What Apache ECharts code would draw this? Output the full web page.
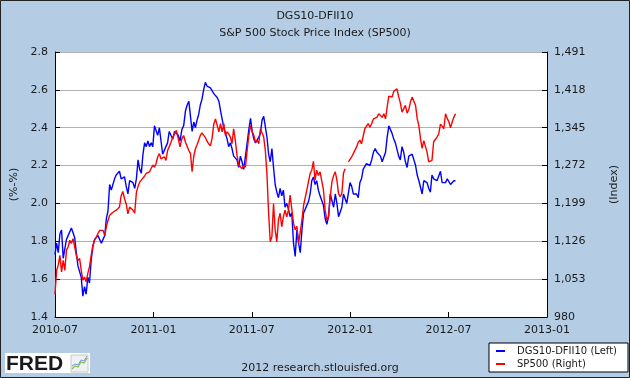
<!DOCTYPE html>
<html>
<head>
<meta charset="utf-8">
<script src="https://cdn.jsdelivr.net/npm/echarts@6/dist/echarts.min.js"></script>
<style>
  html, body { margin: 0; padding: 0; background: #B4CDE5; }
  #chart { width: 630px; height: 378px; }
</style>
</head>
<body>
<div id="chart"></div>
<script>
// ---- data ----
const titleLines = ['DGS10-DFII10', 'S&P 500 Stock Price Index (SP500)'];
const seriesNames = ['DGS10-DFII10 (Left)', 'SP500 (Right)'];
const xTickLabels = ['2010-07', '2011-01', '2011-07', '2012-01', '2012-07', '2013-01'];
const leftTicks = [1.4, 1.6, 1.8, 2.0, 2.2, 2.4, 2.6, 2.8];
const rightTicks = [980, 1053, 1126, 1199, 1272, 1345, 1418, 1491];

// samples were read every 3.1 days starting 2010-07-01
const sampleStart = '2010-07-01';
const sampleStepDays = 3.1;

// DGS10-DFII10 (percent), left axis
const spread = [
  1.73,1.79,1.74,1.84,1.86,1.71,1.76,1.81,1.83,1.83,1.87,1.86,1.82,1.74,1.67,1.64,1.61,1.51,1.56,1.52,1.61,1.58,1.70,1.77,
  1.81,1.80,1.83,1.84,1.79,1.81,1.83,1.92,1.96,2.10,2.07,2.10,2.13,2.15,2.16,2.17,2.13,2.12,2.14,2.09,2.05,2.12,2.13,2.11,
  2.08,2.13,2.23,2.18,2.16,2.26,2.32,2.30,2.33,2.30,2.32,2.30,2.41,2.42,2.36,2.40,2.39,2.26,2.25,2.30,2.32,2.38,2.36,2.34,
  2.38,2.39,2.36,2.33,2.39,2.41,2.49,2.52,2.54,2.46,2.38,2.43,2.40,2.44,2.47,2.52,2.55,2.60,2.64,2.62,2.61,2.61,2.60,2.58,
  2.57,2.56,2.54,2.49,2.48,2.40,2.37,2.34,2.30,2.32,2.29,2.25,2.26,2.23,2.19,2.25,2.22,2.18,2.25,2.32,2.39,2.45,2.38,2.34,
  2.32,2.33,2.35,2.37,2.44,2.46,2.45,2.35,2.26,2.22,2.29,2.19,2.10,2.06,2.03,2.08,2.04,2.07,1.98,2.00,1.97,1.93,1.95,1.79,
  1.72,1.86,1.79,1.74,1.86,1.95,1.97,1.96,2.01,2.05,2.12,2.14,2.10,2.12,2.07,2.04,2.04,1.99,1.92,1.89,1.93,2.05,2.04,1.98,
  2.05,2.00,1.93,1.92,1.98,2.05,2.04,2.00,2.01,2.11,2.09,2.05,2.04,2.05,2.03,2.11,2.13,2.18,2.18,2.21,2.22,2.20,2.23,2.27,
  2.29,2.27,2.27,2.25,2.22,2.21,2.27,2.35,2.41,2.40,2.37,2.34,2.32,2.31,2.25,2.23,2.30,2.27,2.22,2.19,2.25,2.25,2.26,2.25,
  2.20,2.15,2.12,2.11,2.05,2.12,2.13,2.11,2.08,2.06,2.15,2.13,2.14,2.12,2.13,2.17,2.11,2.10,2.11,2.13,2.12,2.10,2.11,2.12,2.12
];

// SP500 (index), right axis; null = missing day
const sp500 = [
  1024,1070,1080,1099,1067,1089,1070,1109,1115,1128,1122,1131,1128,1099,1089,1093,1070,1051,1057,1048,1064,1077,1099,1118,
  1128,1134,1141,1147,1144,1147,1137,1154,1166,1176,1179,1182,1182,1186,1186,1192,1214,1222,1208,1198,1179,1192,1189,1186,
  1180,1220,1232,1240,1244,1246,1252,1257,1257,1260,1263,1273,1269,1276,1289,1295,1285,1285,1289,1282,1301,1308,1317,1327,
  1333,1340,1337,1308,1324,1330,1317,1317,1301,1295,1260,1290,1304,1312,1321,1330,1335,1334,1326,1319,1314,1310,1325,1352,
  1362,1359,1337,1353,1337,1353,1330,1337,1333,1327,1314,1343,1321,1292,1273,1273,1266,1273,1269,1301,1330,1349,1337,1330,
  1317,1321,1314,1343,1340,1327,1301,1255,1180,1125,1135,1199,1148,1125,1167,1180,1154,1173,1186,1173,1186,1215,1212,1161,
  1148,1155,1122,1125,1167,1195,1193,1225,1228,1257,1263,1280,1244,1263,1253,1260,1257,1225,1186,1167,1173,1212,1241,1253,
  1260,1244,1218,1212,1218,1257,1266,null,1279,1282,1289,1295,1292,1308,1317,1321,1314,1317,1343,1346,1353,1346,1353,1362,
  1362,1365,1372,1375,1365,1372,1362,1385,1406,1403,1404,1415,1412,1420,1405,1393,1375,1378,1388,1373,1380,1395,1404,1405,
  1388,1362,1349,1324,1305,1320,1317,1298,1279,1279,1282,1318,1320,1327,1333,1352,1348,1343,1372,1363,1356,1345,1356,1365,1372
];

// ---- helpers ----
const FONT = 'DejaVu Sans';
const startParts = sampleStart.split('-').map(Number);
const startMs = new Date(startParts[0], startParts[1] - 1, startParts[2]).getTime();
function monthsSinceStart(ms) {
  const d = new Date(ms);
  const y = d.getFullYear(), m = d.getMonth();
  const dim = new Date(y, m + 1, 0).getDate();
  return (y - startParts[0]) * 12 + (m - (startParts[1] - 1)) + (d.getDate() - 1 + d.getHours() / 24) / dim;
}
const sampleX = spread.map((_, i) => monthsSinceStart(startMs + i * sampleStepDays * 86400000));
const spreadData = spread.map((v, i) => [sampleX[i], v]);
const spData = sp500.map((v, i) => [sampleX[i], v]);

const chart = echarts.init(document.getElementById('chart'), null, { renderer: 'canvas' });
const labelStyle = { fontFamily: FONT, fontSize: 11, color: '#1a1a1a' };

chart.setOption({
  backgroundColor: '#B4CDE5',
  animation: false,
  title: [
    { text: titleLines[0], left: 'center', top: 6, textStyle: Object.assign({ fontWeight: 'normal' }, labelStyle) },
    { text: titleLines[1], left: 'center', top: 23, textStyle: Object.assign({ fontWeight: 'normal' }, labelStyle) }
  ],
  grid: { left: 55, right: 83, top: 52, height: 265, show: true, backgroundColor: '#ffffff', borderWidth: 0 },
  xAxis: {
    type: 'value', min: 0, max: (xTickLabels.length - 1) * 6, interval: 6,
    axisLine: { show: true, lineStyle: { color: '#000', width: 1 } },
    axisTick: { show: true, inside: true, length: 5, lineStyle: { color: '#000' } },
    axisLabel: Object.assign({ margin: 8, formatter: v => xTickLabels[Math.round(v / 6)] || '' }, labelStyle),
    splitLine: { show: false }
  },
  yAxis: [
    {
      type: 'value', position: 'left', min: leftTicks[0], max: leftTicks[leftTicks.length - 1], interval: 0.2,
      name: '(%-%)', nameLocation: 'middle', nameGap: 29, nameRotate: 90,
      nameTextStyle: labelStyle,
      axisLine: { show: true, lineStyle: { color: '#000', width: 1 } },
      axisTick: { show: true, inside: true, length: 5, lineStyle: { color: '#000' } },
      axisLabel: Object.assign({ margin: 7, formatter: v => v.toFixed(1) }, labelStyle),
      splitLine: { show: true, lineStyle: { color: '#b0b0b0', width: 1 } }
    },
    {
      type: 'value', position: 'right', min: rightTicks[0], max: rightTicks[rightTicks.length - 1], interval: rightTicks[1] - rightTicks[0],
      name: '(Index)', nameLocation: 'middle', nameGap: 62, nameRotate: 90,
      nameTextStyle: labelStyle,
      axisLine: { show: true, lineStyle: { color: '#000', width: 1 } },
      axisTick: { show: true, inside: true, length: 5, lineStyle: { color: '#000' } },
      axisLabel: Object.assign({ margin: 7, formatter: v => Math.round(v).toLocaleString('en-US') }, labelStyle),
      splitLine: { show: false }
    }
  ],
  legend: {
    orient: 'vertical', left: 489, top: 343,
    backgroundColor: '#ffffff', borderColor: '#000', borderWidth: 1,
    padding: [3, 11, 3, 7], itemGap: 3, itemWidth: 9, itemHeight: 2, icon: 'rect',
    textStyle: { fontFamily: FONT, fontSize: 10, color: '#1a1a1a', padding: [0, 0, 0, 7] },
    data: seriesNames
  },
  series: [
    {
      name: seriesNames[0], type: 'line', yAxisIndex: 0, data: spreadData,
      showSymbol: false, symbol: 'none', itemStyle: { color: '#0000ff' },
      lineStyle: { color: '#0000ff', width: 1.4 }, connectNulls: false
    },
    {
      name: seriesNames[1], type: 'line', yAxisIndex: 1, data: spData,
      showSymbol: false, symbol: 'none', itemStyle: { color: '#ff0000' },
      lineStyle: { color: '#ff0000', width: 1.4 }, connectNulls: false
    }
  ],
  graphic: [
    { type: 'text', x: 320, y: 368, style: { text: '2012 research.stlouisfed.org', font: '11px "DejaVu Sans"', fill: '#1a1a1a', align: 'center', verticalAlign: 'middle' } },
    { type: 'rect', shape: { x: 5, y: 353, width: 85, height: 20 }, style: { fill: '#ffffff' } },
    { type: 'text', x: 6, y: 364, style: { text: 'FRED', font: 'bold 21px "Liberation Sans"', fill: '#1a1a1a', verticalAlign: 'middle' } },
    { type: 'rect', shape: { x: 71, y: 355, width: 17, height: 17 }, style: { fill: '#eef1f4', stroke: '#c8c8c8', lineWidth: 1 } },
    { type: 'polyline', shape: { points: [[72, 369], [75, 366], [78, 367], [81, 362], [84, 363], [87, 358]] }, style: { stroke: '#8dbb5a', lineWidth: 1.2, fill: 'none' } },
    { type: 'polyline', shape: { points: [[72, 366], [75, 364], [78, 365], [81, 360], [84, 361], [87, 356]] }, style: { stroke: '#7a9ccc', lineWidth: 1, fill: 'none' } },
    { type: 'rect', z: 100, shape: { x: 0.5, y: 0.5, width: 629, height: 377 }, style: { fill: 'none', stroke: '#222', lineWidth: 1 } }
  ]
});
</script>
</body>
</html>
